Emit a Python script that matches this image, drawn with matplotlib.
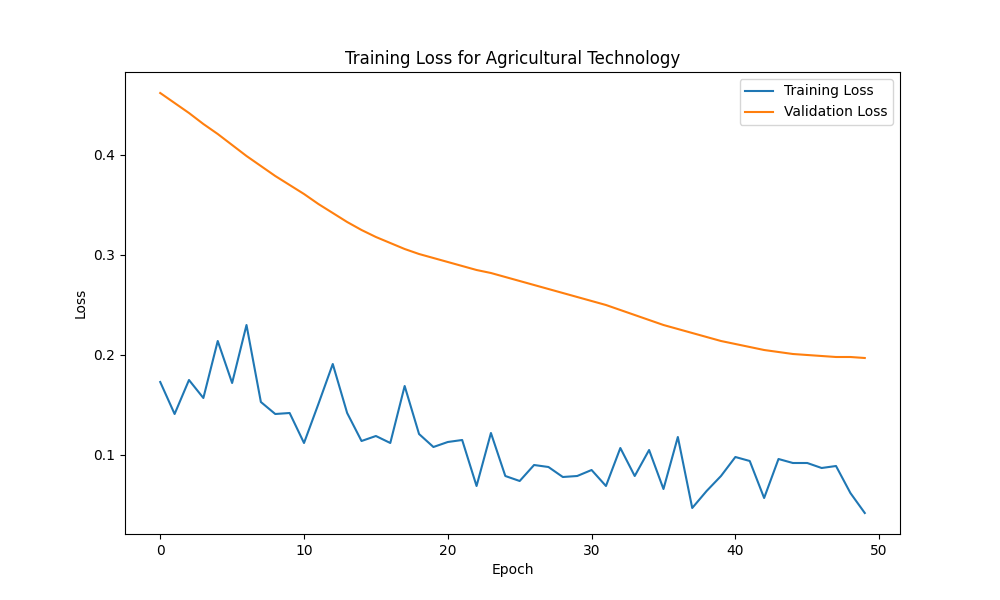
import matplotlib
matplotlib.use('Agg')
import matplotlib.pyplot as plt

epochs = list(range(50))
train_loss = [0.173, 0.141, 0.175, 0.157, 0.214, 0.172, 0.230, 0.153, 0.141, 0.142,
              0.112, 0.151, 0.191, 0.142, 0.114, 0.119, 0.112, 0.169, 0.121, 0.108,
              0.113, 0.115, 0.069, 0.122, 0.079, 0.074, 0.090, 0.088, 0.078, 0.079,
              0.085, 0.069, 0.107, 0.079, 0.105, 0.066, 0.118, 0.047, 0.064, 0.079,
              0.098, 0.094, 0.057, 0.096, 0.092, 0.092, 0.087, 0.089, 0.062, 0.042]
val_loss = [0.462, 0.452, 0.442, 0.431, 0.421, 0.410, 0.399, 0.389, 0.379, 0.370,
            0.361, 0.351, 0.342, 0.333, 0.325, 0.318, 0.312, 0.306, 0.301, 0.297,
            0.293, 0.289, 0.285, 0.282, 0.278, 0.274, 0.270, 0.266, 0.262, 0.258,
            0.254, 0.250, 0.245, 0.240, 0.235, 0.230, 0.226, 0.222, 0.218, 0.214,
            0.211, 0.208, 0.205, 0.203, 0.201, 0.200, 0.199, 0.198, 0.198, 0.197]

fig, ax = plt.subplots(figsize=(10, 6), dpi=100)
ax.plot(epochs, train_loss, label='Training Loss')
ax.plot(epochs, val_loss, label='Validation Loss')
ax.set_title('Training Loss for Agricultural Technology')
ax.set_xlabel('Epoch')
ax.set_ylabel('Loss')
ax.legend()
plt.savefig('out.png')
